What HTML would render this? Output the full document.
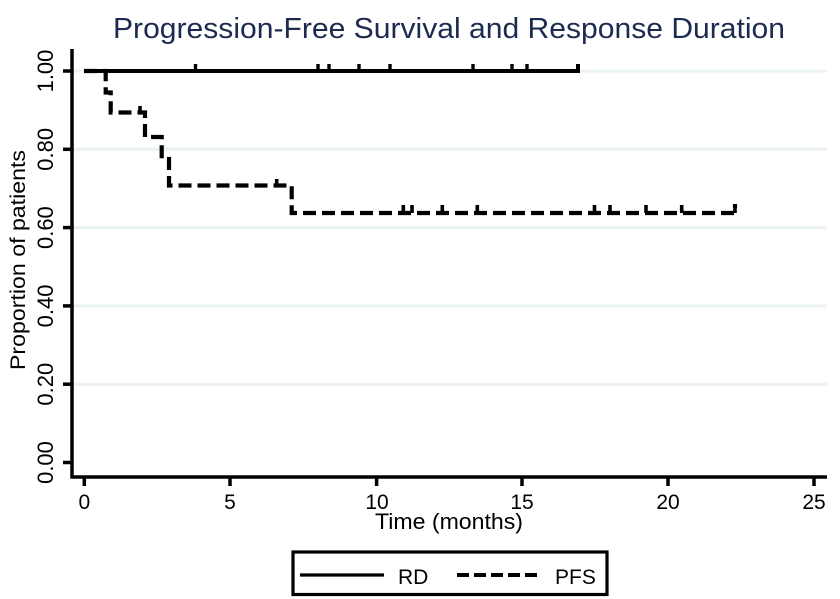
<!DOCTYPE html>
<html>
<head>
<meta charset="utf-8">
<style>
  html, body { margin:0; padding:0; background:#ffffff; }
  svg { display:block; }
  text { font-family: "Liberation Sans", "DejaVu Sans", sans-serif; }
</style>
</head>
<body>
<svg width="840" height="599" viewBox="0 0 840 599" xmlns="http://www.w3.org/2000/svg">
  <rect x="0" y="0" width="840" height="599" fill="#ffffff"/>

  <!-- Title -->
  <text x="113" y="38" font-size="29" fill="#1c2b4f" textLength="672" lengthAdjust="spacingAndGlyphs">Progression-Free Survival and Response Duration</text>

  <!-- Grid lines -->
  <g stroke="#eaf2f3" stroke-width="3">
    <line x1="72" y1="71" x2="827" y2="71"/>
    <line x1="72" y1="149.3" x2="827" y2="149.3"/>
    <line x1="72" y1="227.6" x2="827" y2="227.6"/>
    <line x1="72" y1="305.9" x2="827" y2="305.9"/>
    <line x1="72" y1="384.2" x2="827" y2="384.2"/>
  </g>

  <!-- Axes -->
  <g stroke="#000" stroke-width="3.5" fill="none">
    <line x1="72" y1="49" x2="72" y2="478.5"/>
    <line x1="70.5" y1="477" x2="827" y2="477"/>
    <!-- y ticks -->
    <line x1="63" y1="71" x2="72" y2="71"/>
    <line x1="63" y1="149.3" x2="72" y2="149.3"/>
    <line x1="63" y1="227.6" x2="72" y2="227.6"/>
    <line x1="63" y1="305.9" x2="72" y2="305.9"/>
    <line x1="63" y1="384.2" x2="72" y2="384.2"/>
    <line x1="63" y1="462.5" x2="72" y2="462.5"/>
    <!-- x ticks -->
    <line x1="84.3" y1="477" x2="84.3" y2="486"/>
    <line x1="230" y1="477" x2="230" y2="486"/>
    <line x1="376.6" y1="477" x2="376.6" y2="486"/>
    <line x1="522" y1="477" x2="522" y2="486"/>
    <line x1="668" y1="477" x2="668" y2="486"/>
    <line x1="814" y1="477" x2="814" y2="486"/>
  </g>

  <!-- Y tick labels -->
  <g font-size="22" fill="#000" text-anchor="middle">
    <text x="53" y="71" transform="rotate(-90 53 71)">1.00</text>
    <text x="53" y="149.3" transform="rotate(-90 53 149.3)">0.80</text>
    <text x="53" y="227.6" transform="rotate(-90 53 227.6)">0.60</text>
    <text x="53" y="305.9" transform="rotate(-90 53 305.9)">0.40</text>
    <text x="53" y="384.2" transform="rotate(-90 53 384.2)">0.20</text>
    <text x="53" y="462.5" transform="rotate(-90 53 462.5)">0.00</text>
  </g>

  <!-- Y axis title -->
  <text x="25" y="260" font-size="21" fill="#000" text-anchor="middle" transform="rotate(-90 25 260)" textLength="220" lengthAdjust="spacingAndGlyphs">Proportion of patients</text>

  <!-- X tick labels -->
  <g font-size="21" fill="#000" text-anchor="middle">
    <text x="84.3" y="509">0</text>
    <text x="230" y="509">5</text>
    <text x="377" y="509">10</text>
    <text x="522" y="509">15</text>
    <text x="668" y="509">20</text>
    <text x="814" y="509">25</text>
  </g>

  <!-- X axis title -->
  <text x="375" y="529" font-size="22" fill="#000" textLength="148" lengthAdjust="spacingAndGlyphs">Time (months)</text>

  <!-- PFS dashed curve -->
  <path d="M84,71 H105.7 V92.5 H110.7 V112.5 H145 V137 H161.7 V159 H169 V185.5 H291.7 V213 H735 V204"
        fill="none" stroke="#000" stroke-width="4.2" stroke-dasharray="13 6" stroke-linejoin="miter"/>
  <!-- PFS censor ticks -->
  <g stroke="#000" stroke-width="3.6">
    <line x1="140" y1="106" x2="140" y2="112.5"/>
    <line x1="276.7" y1="179" x2="276.7" y2="185.5"/>
    <line x1="403.3" y1="205" x2="403.3" y2="213"/>
    <line x1="412" y1="205" x2="412" y2="213"/>
    <line x1="442.3" y1="205" x2="442.3" y2="213"/>
    <line x1="477.3" y1="205" x2="477.3" y2="213"/>
    <line x1="594.5" y1="205" x2="594.5" y2="213"/>
    <line x1="610" y1="205" x2="610" y2="213"/>
    <line x1="646" y1="205" x2="646" y2="213"/>
    <line x1="681.7" y1="205" x2="681.7" y2="213"/>
    <line x1="735" y1="204" x2="735" y2="213"/>
  </g>

  <!-- RD solid curve -->
  <path d="M84,71 H578 V64" fill="none" stroke="#000" stroke-width="4"/>
  <g stroke="#000" stroke-width="3.4">
    <line x1="195.5" y1="64" x2="195.5" y2="71"/>
    <line x1="318" y1="64" x2="318" y2="71"/>
    <line x1="329" y1="64" x2="329" y2="71"/>
    <line x1="359" y1="64" x2="359" y2="71"/>
    <line x1="390" y1="64" x2="390" y2="71"/>
    <line x1="473" y1="64" x2="473" y2="71"/>
    <line x1="512" y1="64" x2="512" y2="71"/>
    <line x1="527" y1="64" x2="527" y2="71"/>
  </g>

  <!-- Legend -->
  <rect x="293" y="552" width="314" height="42.5" fill="#fff" stroke="#000" stroke-width="3.2"/>
  <line x1="300" y1="575" x2="384" y2="575" stroke="#000" stroke-width="3.2"/>
  <text x="398" y="584" font-size="21" fill="#000">RD</text>
  <line x1="457" y1="575" x2="542" y2="575" stroke="#000" stroke-width="4" stroke-dasharray="12 5"/>
  <text x="555" y="584" font-size="21" fill="#000">PFS</text>
</svg>
</body>
</html>
